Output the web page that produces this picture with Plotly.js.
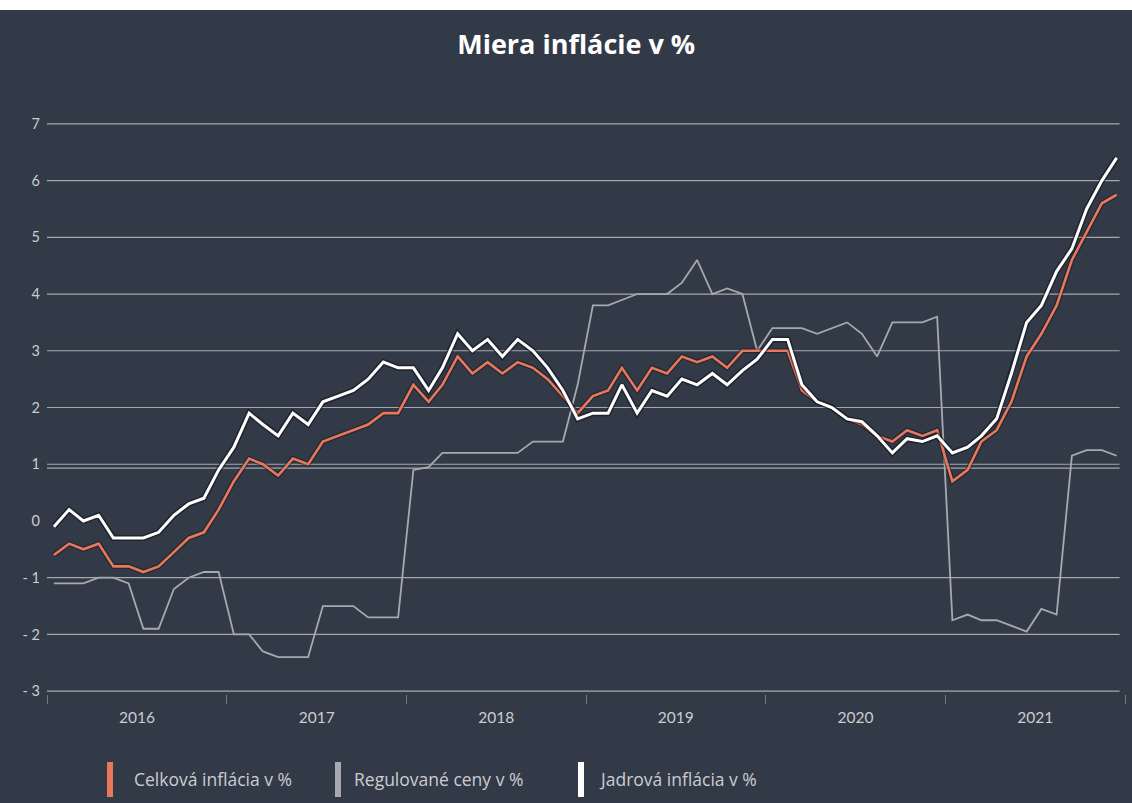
<!DOCTYPE html>
<html>
<head>
<meta charset="utf-8">
<script src="https://cdn.plot.ly/plotly-3.0.1.min.js"></script>
<style>
  html, body { margin: 0; padding: 0; background: #ffffff; }
  #chart { width: 1132px; height: 793px; margin-top: 10px; }
</style>
</head>
<body>
<div id="chart"></div>
<script>
// ---- data ----
const years = [2016, 2017, 2018, 2019, 2020, 2021];
const monthNums = ['01','02','03','04','05','06','07','08','09','10','11','12'];

const celkova = [
  -0.6, -0.4, -0.5, -0.4, -0.8, -0.8, -0.9, -0.8, -0.55, -0.3, -0.2, 0.2,
   0.7,  1.1,  1.0,  0.8,  1.1,  1.0,  1.4,  1.5,  1.6,  1.7,  1.9, 1.9,
   2.4,  2.1,  2.4,  2.9,  2.6,  2.8,  2.6,  2.8,  2.7,  2.5,  2.2, 1.9,
   2.2,  2.3,  2.7,  2.3,  2.7,  2.6,  2.9,  2.8,  2.9,  2.7,  3.0, 3.0,
   3.0,  3.0,  2.3,  2.1,  2.0,  1.8,  1.7,  1.5,  1.4,  1.6,  1.5, 1.6,
   0.7,  0.9,  1.4,  1.6,  2.1,  2.9,  3.3,  3.8,  4.6,  5.1,  5.6, 5.75
];
const regulovane = [
  -1.1, -1.1, -1.1, -1.0, -1.0, -1.1, -1.9, -1.9, -1.2, -1.0, -0.9, -0.9,
  -2.0, -2.0, -2.3, -2.4, -2.4, -2.4, -1.5, -1.5, -1.5, -1.7, -1.7, -1.7,
   0.9,  0.95, 1.2,  1.2,  1.2,  1.2,  1.2,  1.2,  1.4,  1.4,  1.4,  2.4,
   3.8,  3.8,  3.9,  4.0,  4.0,  4.0,  4.2,  4.6,  4.0,  4.1,  4.0,  3.0,
   3.4,  3.4,  3.4,  3.3,  3.4,  3.5,  3.3,  2.9,  3.5,  3.5,  3.5,  3.6,
  -1.75, -1.65, -1.75, -1.75, -1.85, -1.95, -1.55, -1.65, 1.15, 1.25, 1.25, 1.15
];
const jadrova = [
  -0.1,  0.2,  0.0,  0.1, -0.3, -0.3, -0.3, -0.2,  0.1,  0.3,  0.4, 0.9,
   1.3,  1.9,  1.7,  1.5,  1.9,  1.7,  2.1,  2.2,  2.3,  2.5,  2.8, 2.7,
   2.7,  2.3,  2.7,  3.3,  3.0,  3.2,  2.9,  3.2,  3.0,  2.7,  2.3, 1.8,
   1.9,  1.9,  2.4,  1.9,  2.3,  2.2,  2.5,  2.4,  2.6,  2.4,  2.65, 2.85,
   3.2,  3.2,  2.4,  2.1,  2.0,  1.8,  1.75, 1.5,  1.2,  1.45, 1.4, 1.5,
   1.2,  1.3,  1.5,  1.8,  2.6,  3.5,  3.8,  4.4,  4.8,  5.5,  6.0, 6.4
];

const seriesNames = ['Celková inflácia v %', 'Regulované ceny v %', 'Jadrová inflácia v %'];
const titleText = 'Miera inflácie v %';
const yTickVals = [-3, -2, -1, 0, 1, 2, 3, 4, 5, 6, 7];
const yTickText = ['- 3', '- 2', '- 1', '0', '1', '2', '3', '4', '5', '6', '7'];
const gridVals = [-3, -2, -1, 0.93, 1, 2, 3, 4, 5, 6, 7];

// month categories (mid-month dates)
const months = [];
years.forEach(y => monthNums.forEach(m => months.push(y + '-' + m + '-15')));

// ---- styling ----
const BG = '#323947';
const ORANGE = '#e8775c';
const GRAY = '#a7a9ae';
const WHITE = '#ffffff';
const TXT = '#cbcdd1';

// pixel helpers for plot area (div coords: plot from x 47..1125, y top 111, height 573)
const PL = 47, PW = 1078, PT = 111, PH = 573, DIVTOP = 10;
const px2x = px => (px - PL) / PW;
const py2y = py => (PT + PH + DIVTOP - py) / PH;

const traces = [
  { x: months, y: regulovane, mode: 'lines', name: seriesNames[1],
    line: { color: GRAY, width: 1.8 }, hoverinfo: 'skip' },
  { x: months, y: celkova, mode: 'lines', showlegend: false,
    line: { color: 'rgba(15,18,25,0.45)', width: 5 }, hoverinfo: 'skip' },
  { x: months, y: celkova, mode: 'lines', name: seriesNames[0],
    line: { color: ORANGE, width: 2.6 }, hoverinfo: 'skip' },
  { x: months, y: jadrova, mode: 'lines', showlegend: false,
    line: { color: 'rgba(15,18,25,0.55)', width: 6 }, hoverinfo: 'skip' },
  { x: months, y: jadrova, mode: 'lines', name: seriesNames[2],
    line: { color: WHITE, width: 3 }, hoverinfo: 'skip' }
];

const shapes = gridVals.map(v => ({
  type: 'line', xref: 'paper', x0: 0, x1: 0.995, yref: 'y', y0: v, y1: v,
  line: { color: 'rgba(205,205,205,0.75)', width: 1.2 }, layer: 'below'
}));

// legend (vertical colour bars + text)
const legendItems = [
  { bar: 107, text: 132, color: ORANGE, label: seriesNames[0] },
  { bar: 335, text: 352, color: GRAY, label: seriesNames[1] },
  { bar: 578, text: 597, color: WHITE, label: seriesNames[2] }
];
const annotations = [];
legendItems.forEach(it => {
  shapes.push({
    type: 'rect', xref: 'paper', yref: 'paper',
    x0: px2x(it.bar), x1: px2x(it.bar + 6), y0: py2y(797), y1: py2y(762),
    fillcolor: it.color, line: { width: 0 }, layer: 'above'
  });
  annotations.push({
    xref: 'paper', yref: 'paper', x: px2x(it.text), y: py2y(779),
    xanchor: 'left', yanchor: 'middle', showarrow: false, text: it.label,
    font: { family: 'Open Sans, sans-serif', size: 17.5, color: TXT }
  });
});

const layout = {
  width: 1132, height: 793,
  paper_bgcolor: BG, plot_bgcolor: BG,
  margin: { l: PL, r: 1132 - PL - PW, t: PT, b: 793 - PT - PH, pad: 0 },
  showlegend: false,
  title: {
    text: '<b>' + titleText + '</b>',
    x: 0.509, xref: 'container', xanchor: 'center',
    y: 1 - 35 / 793, yref: 'container', yanchor: 'middle',
    font: { family: 'Open Sans, sans-serif', size: 27, color: '#ffffff' }
  },
  xaxis: {
    type: 'date', range: ['2016-01-01', '2022-01-01'],
    tick0: '2016-01-01', dtick: 'M12', tickformat: '%Y', ticklabelmode: 'period',
    ticks: 'outside', ticklen: 9, tickwidth: 1, tickcolor: 'rgba(200,200,200,0.45)',
    showgrid: false, zeroline: false, showline: false,
    tickfont: { family: 'Lato, sans-serif', size: 15.5, color: TXT }
  },
  yaxis: {
    range: [-3.05, 7.05], tickvals: yTickVals, ticktext: yTickText,
    showgrid: false, zeroline: false, showline: false, ticks: '',
    ticklabelstandoff: 6,
    tickfont: { family: 'Lato, sans-serif', size: 14.5, color: TXT }
  },
  shapes: shapes,
  annotations: annotations
};

Plotly.newPlot('chart', traces, layout, { staticPlot: true, displayModeBar: false });
</script>
</body>
</html>
